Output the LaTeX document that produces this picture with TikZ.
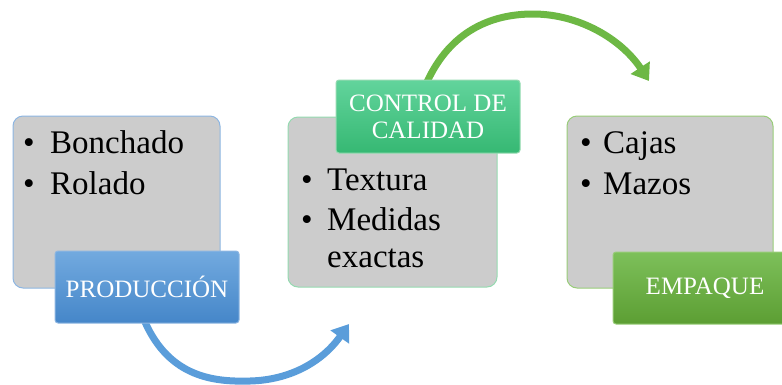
\documentclass[tikz,border=0pt]{standalone}
\usepackage{fontspec}
\setmainfont{Liberation Serif}
\usetikzlibrary{arrows.meta}
\definecolor{grayfill}{HTML}{CCCCCC}
\definecolor{bluetop}{HTML}{72AADF}
\definecolor{bluebot}{HTML}{4586C9}
\definecolor{blueline}{HTML}{8DB6E2}
\definecolor{tealtop}{HTML}{62D49C}
\definecolor{tealbot}{HTML}{36B873}
\definecolor{tealline}{HTML}{94DAB0}
\definecolor{grtop}{HTML}{7DC05A}
\definecolor{grbot}{HTML}{5C9E33}
\definecolor{grline}{HTML}{98CC78}
\definecolor{arrblue}{HTML}{5A9DDA}
\definecolor{arrgreen}{HTML}{6DB844}
\tikzset{
  x=1pt, y=-1pt,
  graybox/.style={draw=#1, line width=1pt, fill=grayfill, rounded corners=10pt, inner sep=0pt},
  labelbox/.style n args={3}{draw=#3, line width=1pt, top color=#1, bottom color=#2, rounded corners=3pt, inner sep=0pt, text=white, font=\fontsize{25}{27}\selectfont, align=center},
  bodytext/.style={anchor=base west, inner sep=0pt, font=\fontsize{33}{40}\selectfont},
  bul/.style={anchor=base, inner sep=0pt, font=\fontsize{33}{40}\selectfont},
  curvearrow/.style={line width=7pt, draw=#1, -{Triangle[length=16pt,width=22pt]}},
}
\begin{document}
\begin{tikzpicture}
\useasboundingbox (0,0) rectangle (782,384);
% gray boxes
\path[graybox=blueline] (13,116) rectangle (220,288);
\node[coordinate] (b1) at (116,202) {};
\path[graybox=tealline] (288,117) rectangle (497,287);
\node[coordinate] (b2) at (392,202) {};
\path[graybox=grline] (567,116) rectangle (773,288);
\node[coordinate] (b3) at (670,202) {};
% body texts
\node[bul] (d1) at (29,153) {\textbullet};
\node[bodytext] (t1) at (50,153) {Bonchado};
\node[bul] (d2) at (29,194) {\textbullet};
\node[bodytext] (t2) at (50,194) {Rolado};
\node[bul] (d3) at (307,190) {\textbullet};
\node[bodytext] (t3) at (327,190) {Textura};
\node[bul] (d4) at (307,230) {\textbullet};
\node[bodytext] (t4) at (327,230) {Medidas};
\node[bodytext] (t5) at (327,267) {exactas};
\node[bul] (d5) at (586,153) {\textbullet};
\node[bodytext] (t6) at (603,153) {Cajas};
\node[bul] (d6) at (586,194) {\textbullet};
\node[bodytext] (t7) at (603,194) {Mazos};
% arrows
\coordinate (a1s) at (145,322);
\coordinate (a1e) at (349,324);
\draw[curvearrow=arrblue] (a1s) .. controls (170,378) and (215,382) .. (250,381) .. controls (290,380) and (322,362) .. (a1e);
\coordinate (a2s) at (427,82);
\coordinate (a2e) at (649,81);
\draw[curvearrow=arrgreen] (a2s) .. controls (450,32) and (490,14) .. (533,14) .. controls (580,14) and (622,40) .. (a2e);
% label boxes
\node[labelbox={bluetop}{bluebot}{blueline}, minimum width=184pt, minimum height=72pt] (prod) at (147,287) {PRODUCCIÓN};
\node[labelbox={tealtop}{tealbot}{tealline}, minimum width=184pt, minimum height=73pt] (ctrl) at (428,116.5) {CONTROL DE\\CALIDAD};
\node[labelbox={grtop}{grbot}{grline}, minimum width=184pt, minimum height=72pt] (emp) at (705,288) {EMPAQUE};
\end{tikzpicture}
\end{document}
